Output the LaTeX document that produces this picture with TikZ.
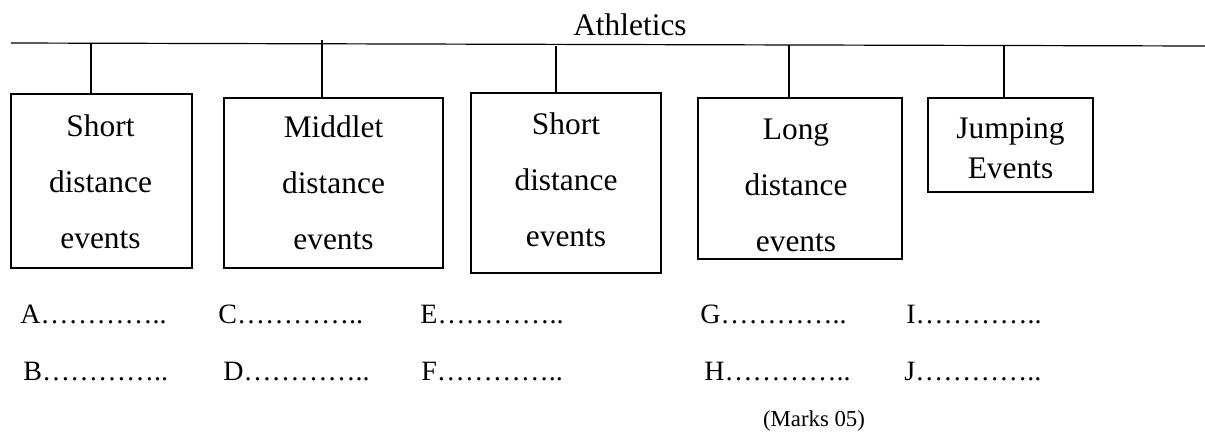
\documentclass[tikz,border=0pt]{standalone}
\usepackage{fontspec}
\setmainfont{Liberation Serif}
\usetikzlibrary{positioning}

\tikzset{
  evbox/.style={draw, thick, inner sep=0pt},
  evtext/.style={inner sep=0pt, align=center, font=\fontsize{15.7}{28}\selectfont},
  answer/.style={anchor=base west, inner sep=0pt, font=\fontsize{14}{17}\selectfont},
  link/.style={line width=0.6pt},
}

\begin{document}
\begin{tikzpicture}[x=0.5pt, y=-0.5pt]
  \useasboundingbox (0,0) rectangle (1205,435);

  % heading and main line
  \node[anchor=base, inner sep=0pt, font=\fontsize{15.7}{19}\selectfont] (athl) at (630,35) {Athletics};
  \coordinate (left) at (11,43);
  \coordinate (right) at (1205,46);
  \draw[link] (left) -- (right);

  % event boxes
  \node[evbox, minimum width=90.5pt, minimum height=87pt] (short1) at (101.5,181) {};
  \node[evbox, minimum width=109.5pt, minimum height=85pt] (middle) at (333.5,183) {};
  \node[evbox, minimum width=95pt, minimum height=90pt] (short2) at (566,183) {};
  \node[evbox, minimum width=102pt, minimum height=80.5pt] (long) at (800,178.5) {};
  \node[evbox, minimum width=82.5pt, minimum height=47pt] (jump) at (1010.5,145) {};

  \node[evtext] (t1) at ([xshift=-0.5pt, yshift=-0.5pt]short1.center) {Short\\distance\\events};
  \node[evtext] (t2) at (middle.center) {Middlet\\distance\\events};
  \node[evtext] (t3) at ([yshift=1.5pt]short2.center) {Short\\distance\\events};
  \node[evtext] (t4) at ([xshift=-2pt, yshift=-3.3pt]long.center) {Long\\distance\\events};
  \node[evtext, font=\fontsize{15.7}{20}\selectfont] (t5) at ([yshift=-1.5pt]jump.center) {Jumping\\Events};

  % drop lines
  \coordinate (d1) at (91,44);
  \coordinate (d2) at (322,40);
  \coordinate (d3) at (556,46);
  \coordinate (d4) at (789,45);
  \coordinate (d5) at (1004,46);
  \draw[link] (d1) -- (d1 |- short1.north);
  \draw[link] (d2) -- (d2 |- middle.north);
  \draw[link] (d3) -- (d3 |- short2.north);
  \draw[link] (d4) -- (d4 |- long.north);
  \draw[link] (d5) -- (d5 |- jump.north);

  % answer lines
  \node[answer] (A) at (20,323) {A…………..};
  \node[answer] (B) at (23,380) {B…………..};
  \node[answer] (C) at (218,323) {C…………..};
  \node[answer] (D) at (223,380) {D…………..};
  \node[answer] (E) at (420,323) {E…………..};
  \node[answer] (F) at (421,380) {F…………..};
  \node[answer] (G) at (700,323) {G…………..};
  \node[answer] (H) at (704,380) {H…………..};
  \node[answer] (I) at (906,323) {I…………..};
  \node[answer] (J) at (904,380) {J…………..};

  \node[anchor=base, inner sep=0pt, font=\fontsize{11.4}{14}\selectfont] (marks) at (814,426) {(Marks 05)};
\end{tikzpicture}
\end{document}
